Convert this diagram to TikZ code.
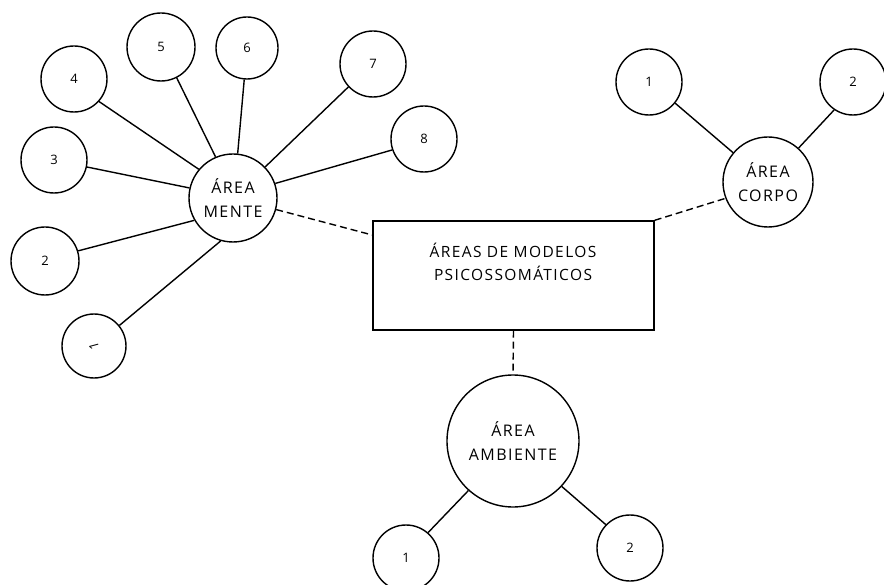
\documentclass[tikz,border=0pt]{standalone}
\usepackage{fontspec}
\setmainfont{Open Sans}[LetterSpace=9]
\begin{document}
\begin{tikzpicture}[x=1pt,y=-1pt,
  line width=1.4pt,
  hub/.style={draw, circle, inner sep=0pt, align=center, font=\fontsize{16}{24}\selectfont},
  leaf/.style={draw, circle, inner sep=0pt, minimum size=66pt, font=\fontsize{13}{15}\selectfont},
  link/.style={line width=1.4pt},
  tie/.style={line width=1.4pt, dash pattern=on 7pt off 4pt}
]
\useasboundingbox (0,0) rectangle (884,585);

% central box
\node[draw, rectangle, minimum width=281pt, minimum height=109pt, inner sep=0pt] (box) at (513.5,275.5) {};
\node[align=center, font=\fontsize{15.5}{23}\selectfont] (title) at (513,262) {ÁREAS DE MODELOS\\PSICOSSOMÁTICOS};

% hubs
\node[hub, minimum size=88pt] (mente) at (233,198) {ÁREA\\MENTE};
\node[hub, minimum size=90pt] (corpo) at (768,182) {ÁREA\\CORPO};
\node[hub, minimum size=132pt] (amb) at (513,441) {ÁREA\\AMBIENTE};

% leaves around ÁREA MENTE
\node[leaf, minimum size=64pt] (m1) at (94,346) {\rotatebox{105}{1}};
\node[leaf, minimum size=68pt] (m2) at (45,261) {2};
\node[leaf] (m3) at (54,160) {3};
\node[leaf] (m4) at (74,79) {4};
\node[leaf, minimum size=68pt] (m5) at (161,47) {5};
\node[leaf, minimum size=62pt] (m6) at (247,48) {6};
\node[leaf] (m7) at (373,64) {7};
\node[leaf] (m8) at (424,139) {8};

% leaves around ÁREA CORPO
\node[leaf] (c1) at (649,82) {1};
\node[leaf] (c2) at (853,82) {2};

% leaves around ÁREA AMBIENTE
\node[leaf] (a1) at (406,558) {1};
\node[leaf] (a2) at (630,548) {2};

% solid links
\draw[link] (m1.39) -- (mente.254);
\draw[link] (m2.17) -- (mente.210);
\draw[link] (m3.348) -- (mente.167);
\draw[link] (m4.318) -- (mente.140);
\draw[link] (m5.297) -- (mente.113);
\draw[link] (m6.265) -- (mente.84);
\draw[link] (m7.223) -- (mente.44);
\draw[link] (m8.199) -- (mente.19);

\draw[link] (c1.321) -- (corpo.140);
\draw[link] (c2.236) -- (corpo.48);

\draw[link] (a1.49) -- (amb.228);
\draw[link] (a2.136) -- (amb.317);

% dashed ties to the central box
\draw[tie] (mente.345) -- (box.164);
\draw[tie] (box.north east) -- (corpo.201);
\draw[tie] (box.south) -- (amb.north);
\end{tikzpicture}
\end{document}
